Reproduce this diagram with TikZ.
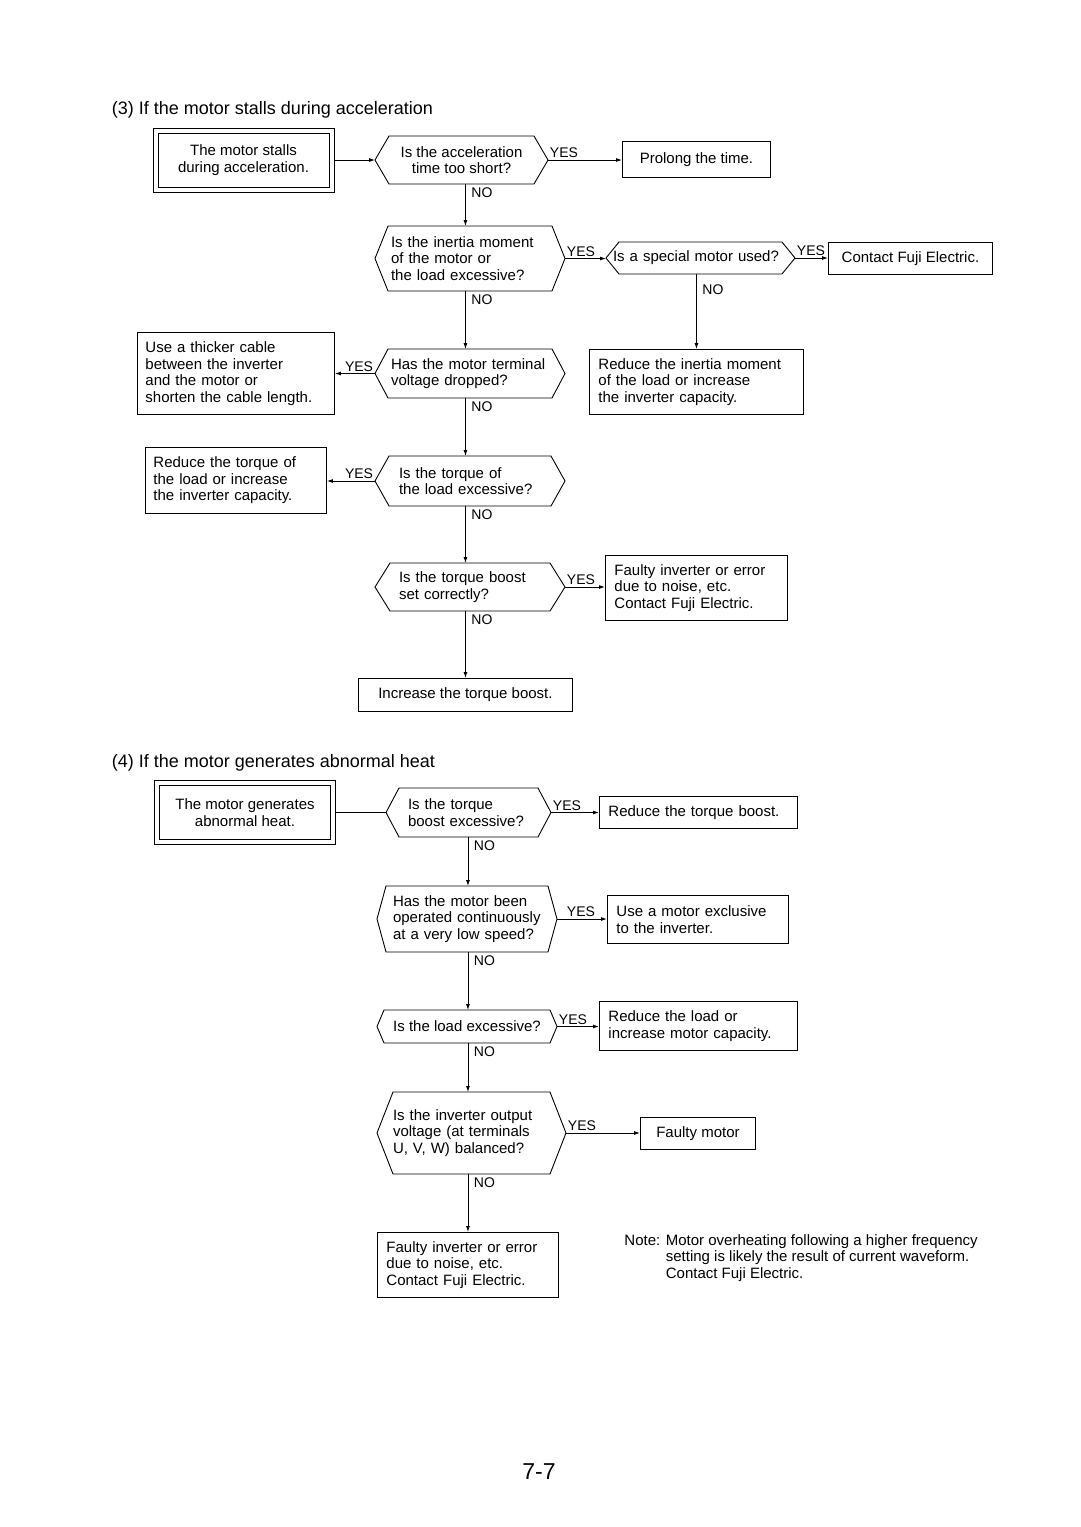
\documentclass[tikz,border=0pt]{standalone}
\usepackage{fontspec}
\setmainfont{Liberation Sans}
\usetikzlibrary{arrows.meta}
% hexagon round a decision node, #1 = indent
\newcommand{\hexa}[2][14]{%
  \draw ([xshift=#1pt]#2.north west) -- ([xshift=-#1pt]#2.north east) -- (#2.east)
    -- ([xshift=-#1pt]#2.south east) -- ([xshift=#1pt]#2.south west) -- (#2.west) -- cycle;}
% inner frame of a start box
\newcommand{\inframe}[1]{%
  \draw ([shift={(5pt,-5pt)}]#1.north west) rectangle ([shift={(-5pt,5pt)}]#1.south east);}

\begin{document}
\begin{tikzpicture}[x=1pt, y=-1pt, line width=0.9pt,
  every node/.style={font=\fontsize{15}{16.5}\selectfont},
  box/.style={draw, rectangle, anchor=north west, inner ysep=2pt, align=left},
  dec/.style={rectangle, anchor=west, inner ysep=0pt, outer sep=0pt, align=left},
  start/.style={draw, outer sep=0pt, minimum width=181pt, minimum height=64pt, align=center},
  lab/.style={font=\fontsize{14}{14}\selectfont, inner sep=1.5pt},
  flow/.style={-{Latex[length=6pt,width=4pt]}}]
\useasboundingbox (0,0) rectangle (1080,1527);
%
\node[anchor=west, font=\fontsize{18}{18}\selectfont] (title3) at (108,110) {(3) If the motor stalls during acceleration};
\node[start] (start3) at (243.5,160) {The motor stalls\\during acceleration.};
\inframe{start3}
\node[dec, minimum width=173pt, minimum height=48pt, align=center] (d1) at (375,160) {Is the acceleration\\time too short?};
\node[dec, inner xsep=16pt, text width=158pt, minimum height=65pt] (d2) at (375,258.5) {Is the inertia moment\\of the motor or\\the load excessive?};
\node[dec, inner xsep=7pt, text width=175pt, minimum height=32pt] (d3) at (606,258) {Is a special motor used?};
\node[dec, inner xsep=16pt, text width=158pt, minimum height=49pt] (d4) at (375,373.5) {Has the motor terminal\\voltage dropped?};
\node[dec, inner xsep=24pt, text width=142pt, minimum height=50pt] (d5) at (375,481) {Is the torque of\\the load excessive?};
\node[dec, inner xsep=24pt, text width=142pt, minimum height=48pt] (d6) at (375,587) {Is the torque boost\\set correctly?};
\hexa{d1} \hexa[13]{d2} \hexa[13]{d3} \hexa[13]{d4} \hexa{d5} \hexa[15]{d6}
%
\node[box, minimum width=148pt, minimum height=36pt, align=center] (prolong) at (622,141) {Prolong the time.};
\node[box, minimum width=164pt, minimum height=32pt, align=center] (contact) at (828,242) {Contact Fuji Electric.};
\node[box, inner xsep=9pt, text width=196pt, minimum height=65pt] (inert) at (589,349) {Reduce the inertia moment\\of the load or increase\\the inverter capacity.};
\node[box, inner xsep=8pt, text width=181pt, minimum height=82pt] (thick) at (137,332) {Use a thicker cable\\between the inverter\\and the motor or\\shorten the cable length.};
\node[box, inner xsep=8pt, text width=165pt, minimum height=66pt] (torq) at (145,447) {Reduce the torque of\\the load or increase\\the inverter capacity.};
\node[box, inner xsep=9pt, text width=164pt, minimum height=65pt] (faulty1) at (605,555) {Faulty inverter or error\\due to noise, etc.\\Contact Fuji Electric.};
\node[box, minimum width=214pt, minimum height=33pt, align=center] (boost) at (358,678) {Increase the torque boost.};
%
\draw[flow] (start3.east) -- (d1.west);
\draw[flow] (d1.east) -- node[lab, anchor=south west, pos=0] {YES} (d1.east -| prolong.west);
\draw[flow] (d1.south -| boost.north) -- node[lab, anchor=north west, pos=0, xshift=4pt, yshift=-2pt] {NO} (d2.north -| boost.north);
\draw[flow] (d2.east) -- node[lab, anchor=south west, pos=0] {YES} (d2.east -| d3.west);
\draw[flow] (d3.east) -- node[lab, anchor=south west, pos=0] {YES} (d3.east -| contact.west);
\draw[flow] (d3.south -| inert.north) -- node[lab, anchor=north west, pos=0, xshift=4pt, yshift=-9pt] {NO} (inert.north);
\draw[flow] (d2.south -| boost.north) -- node[lab, anchor=north west, pos=0, xshift=4pt, yshift=-2pt] {NO} (d4.north -| boost.north);
\draw[flow] (d4.west) -- node[lab, anchor=south east, pos=0] {YES} (d4.west -| thick.east);
\draw[flow] (d4.south -| boost.north) -- node[lab, anchor=north west, pos=0, xshift=4pt, yshift=-2pt] {NO} (d5.north -| boost.north);
\draw[flow] (d5.west) -- node[lab, anchor=south east, pos=0] {YES} (d5.west -| torq.east);
\draw[flow] (d5.south -| boost.north) -- node[lab, anchor=north west, pos=0, xshift=4pt, yshift=-2pt] {NO} (d6.north -| boost.north);
\draw[flow] (d6.east) -- node[lab, anchor=south west, pos=0] {YES} (d6.east -| faulty1.west);
\draw[flow] (d6.south -| boost.north) -- node[lab, anchor=north west, pos=0, xshift=4pt, yshift=-2pt] {NO} (boost.north);
%
\node[anchor=west, font=\fontsize{18}{18}\selectfont] (title4) at (108,763) {(4) If the motor generates abnormal heat};
\node[start] (start4) at (245,812.5) {The motor generates\\abnormal heat.};
\inframe{start4}
\node[dec, inner xsep=22pt, text width=121pt, minimum height=49pt] (e1) at (386,812.5) {Is the torque\\boost excessive?};
\node[dec, inner xsep=16pt, text width=148pt, minimum height=66pt] (e2) at (377,919) {Has the motor been\\operated continuously\\at a very low speed?};
\node[dec, minimum width=180pt, minimum height=33pt, align=center] (e3) at (377,1026.5) {Is the load excessive?};
\node[dec, inner xsep=16pt, text width=157pt, minimum height=82pt] (e4) at (377,1133) {Is the inverter output\\voltage (at terminals\\U, V, W) balanced?};
\hexa[13]{e1} \hexa[9]{e2} \hexa[7]{e3} \hexa[16]{e4}
%
\node[box, inner xsep=9pt, text width=180pt, minimum height=32pt] (rboost) at (599,796) {Reduce the torque boost.};
\node[box, inner xsep=9pt, text width=163pt, minimum height=48pt] (excl) at (607,895) {Use a motor exclusive\\to the inverter.};
\node[box, inner xsep=9pt, text width=180pt, minimum height=49pt] (rload) at (599,1001) {Reduce the load or\\increase motor capacity.};
\node[box, minimum width=115pt, minimum height=32pt, align=center] (fmotor) at (640,1117) {Faulty motor};
\node[box, inner xsep=9pt, text width=163pt, minimum height=65pt] (faulty2) at (377,1232) {Faulty inverter or error\\due to noise, etc.\\Contact Fuji Electric.};
%
\draw (start4.east) -- (e1.west);
\draw[flow] (e1.east) -- node[lab, anchor=south west, pos=0] {YES} (e1.east -| rboost.west);
\draw[flow] (e1.south -| faulty2.north) -- node[lab, anchor=north west, pos=0, xshift=4pt, yshift=-2pt] {NO} (e2.north -| faulty2.north);
\draw[flow] (e2.east) -- node[lab, anchor=south west, pos=0, xshift=8pt] {YES} (e2.east -| excl.west);
\draw[flow] (e2.south -| faulty2.north) -- node[lab, anchor=north west, pos=0, xshift=4pt, yshift=-2pt] {NO} (e3.north -| faulty2.north);
\draw[flow] (e3.east) -- node[lab, anchor=south west, pos=0] {YES} (e3.east -| rload.west);
\draw[flow] (e3.south -| faulty2.north) -- node[lab, anchor=north west, pos=0, xshift=4pt, yshift=-2pt] {NO} (e4.north -| faulty2.north);
\draw[flow] (e4.east) -- node[lab, anchor=south west, pos=0] {YES} (e4.east -| fmotor.west);
\draw[flow] (e4.south -| faulty2.north) -- node[lab, anchor=north west, pos=0, xshift=4pt, yshift=-2pt] {NO} (faulty2.north);
%
\node[anchor=north west, inner sep=0pt] (note) at (624,1233) {\begin{tabular}{@{}l@{ }l@{}}Note: & Motor overheating following a higher frequency\\ & setting is likely the result of current waveform.\\ & Contact Fuji Electric.\end{tabular}};
\node[font=\fontsize{23}{23}\selectfont] (page) at (539,1472) {7-7};
\end{tikzpicture}
\end{document}
